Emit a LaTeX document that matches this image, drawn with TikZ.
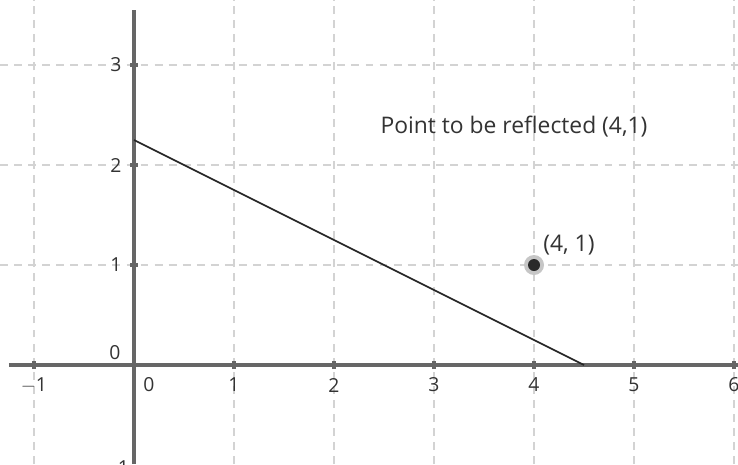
\documentclass[tikz,border=0pt]{standalone}
\usepackage{fontspec}
\setmainfont{Open Sans}
\definecolor{gridc}{HTML}{D3D3D3}
\definecolor{axisc}{HTML}{666666}
\definecolor{txtc}{HTML}{333333}
\begin{document}
\begin{tikzpicture}[x=2cm,y=2cm,
  gridline/.style={gridc, line width=1.4pt, dash pattern=on 4.5pt off 3.5pt},
  axisline/.style={axisc, line width=1.9pt},
  tickmark/.style={axisc, line width=1.9pt},
  ticklabel/.style={text=txtc, font=\fontsize{11}{12}\selectfont, inner sep=1pt},
  mainlabel/.style={text=txtc, font=\fontsize{13}{15}\selectfont, inner sep=0pt}]
\useasboundingbox (-1.34,-0.99) rectangle (6.04,3.65);
\fill[white] (-1.34,-0.99) rectangle (6.04,3.65);
% grid
\foreach \x in {-1,1,2,3,4,5,6} \draw[gridline] (\x,-0.99) -- (\x,3.65);
\foreach \y in {1,2,3} \draw[gridline] (-1.34,\y) -- (6.04,\y);
% axes
\coordinate (xl) at (-1.25,0);
\coordinate (xr) at (6.04,0);
\coordinate (yb) at (0,-0.99);
\coordinate (yt) at (0,3.55);
\draw[axisline] (xl) -- (xr);
\draw[axisline] (yb) -- (yt);
% ticks
\foreach \x in {-1,1,2,3,4,5,6} \draw[tickmark] (\x,-0.04) -- (\x,0.04);
\foreach \y in {1,2,3} \draw[tickmark] (-0.04,\y) -- (0.04,\y);
% tick labels
\foreach \x in {-1,1,2,3,4,5,6} \node[ticklabel] (xt\x) at (\x,-0.2) {\ifnum\x<0 $-$1\else\x\fi};
\node[ticklabel] (xt0) at (0.15,-0.2) {0};
\node[ticklabel] (yt0) at (-0.19,0.12) {0};
\foreach \y in {1,2,3} \node[ticklabel] (yl\y) at (-0.18,\y) {\y};
\node[ticklabel] (ylm1) at (-0.18,-1.03) {$-$1};
% line
\coordinate (A) at (0,2.25);
\coordinate (B) at (4.5,0);
\draw[black!85, line width=1pt] (A) -- (B);
% point
\node[circle, fill=gray!45, minimum size=0.4cm, inner sep=0pt] (Phalo) at (4,1) {};
\node[circle, fill=txtc!80!black, minimum size=0.24cm, inner sep=0pt] (P) at (4,1) {};
\node[mainlabel, anchor=west] (Plab) at (4.09,1.2) {(4, 1)};
\node[mainlabel] (title) at (3.8,2.38) {Point to be reflected (4,1)};
\end{tikzpicture}
\end{document}
